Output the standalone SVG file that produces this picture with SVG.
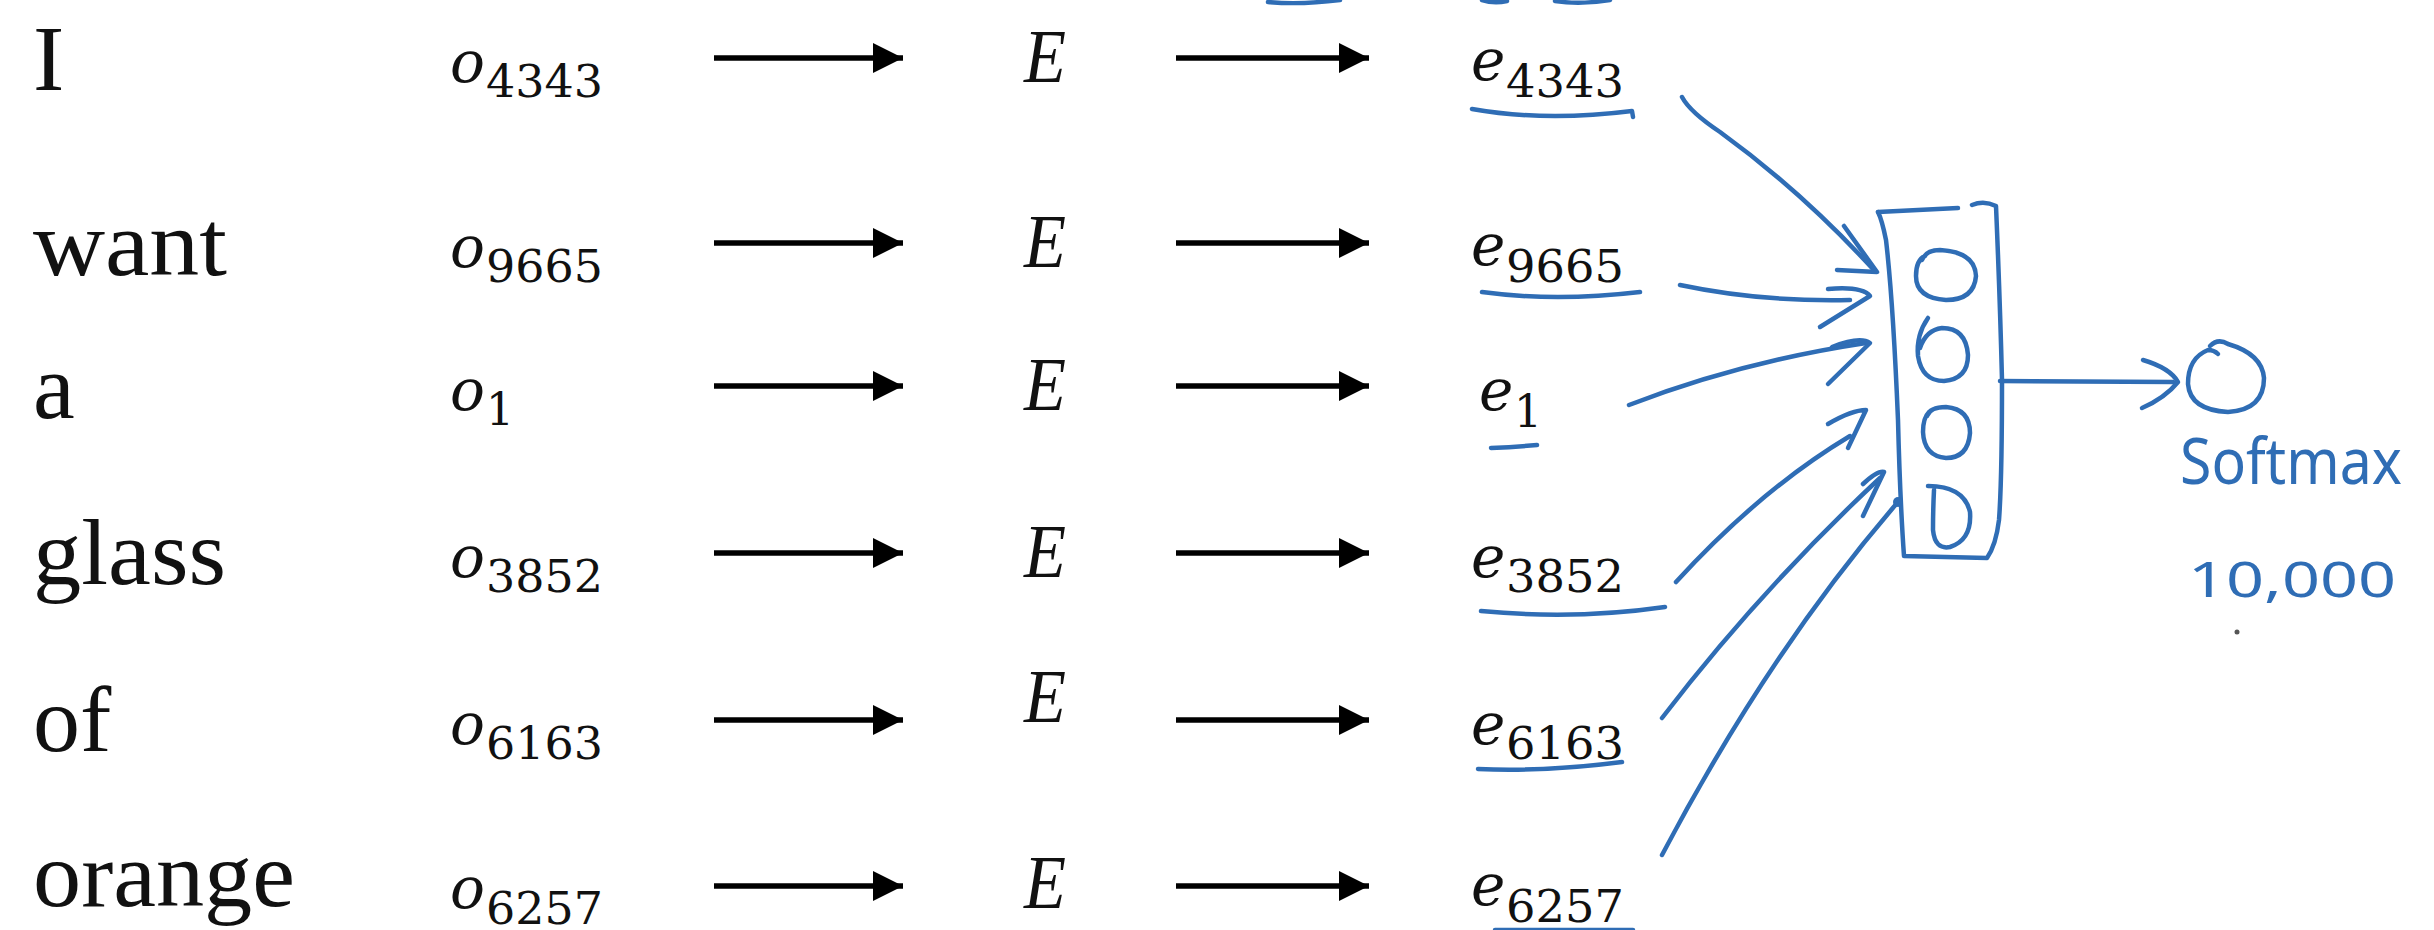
<svg xmlns="http://www.w3.org/2000/svg" width="2434" height="930" viewBox="0 0 2434 930">
<defs>
<marker id="ah" markerUnits="userSpaceOnUse" markerWidth="32" markerHeight="32" refX="30" refY="16" orient="auto">
<path d="M0,1 L30,16 L0,31 Z" fill="#000"/>
</marker>
</defs>
<style>
.w{font-family:"Liberation Serif","Times New Roman",serif;font-size:94px;fill:#111}
.m{font-family:"DejaVu Serif",serif;font-style:italic;font-size:58px;fill:#111}
.E{font-family:"Liberation Serif",serif;font-style:italic;font-size:76px;fill:#111}
.d{font-family:"DejaVu Serif",serif;font-size:44px;fill:#111}
.k{stroke:#000;stroke-width:5.5;fill:none}
.b{stroke:#2f6db5;stroke-width:4.5;fill:none;stroke-linecap:round;stroke-linejoin:round}
.bt{font-family:"Noto Sans","DejaVu Sans",sans-serif;fill:#2f6db5}
</style>
<rect width="2434" height="930" fill="#fff"/>

<g id="words">
<text class="w" x="33" y="90">I</text>
<text class="w" x="33" y="275" textLength="194" lengthAdjust="spacingAndGlyphs">want</text>
<text class="w" x="33" y="418">a</text>
<text class="w" x="33" y="584" textLength="193" lengthAdjust="spacingAndGlyphs">glass</text>
<text class="w" x="33" y="751">of</text>
<text class="w" x="33" y="906" textLength="262" lengthAdjust="spacingAndGlyphs">orange</text>
</g>

<g id="onehot">
<g id="o4343"><text class="m" x="450" y="82">o</text><text class="d" x="486" y="97" textLength="117" lengthAdjust="spacingAndGlyphs">4343</text></g>
<g id="o9665"><text class="m" x="450" y="267">o</text><text class="d" x="486" y="282" textLength="117" lengthAdjust="spacingAndGlyphs">9665</text></g>
<g id="o1"><text class="m" x="450" y="410">o</text><text class="d" x="486" y="425">1</text></g>
<g id="o3852"><text class="m" x="450" y="577">o</text><text class="d" x="486" y="592" textLength="117" lengthAdjust="spacingAndGlyphs">3852</text></g>
<g id="o6163"><text class="m" x="450" y="744">o</text><text class="d" x="486" y="759" textLength="117" lengthAdjust="spacingAndGlyphs">6163</text></g>
<g id="o6257"><text class="m" x="450" y="908">o</text><text class="d" x="486" y="924" textLength="117" lengthAdjust="spacingAndGlyphs">6257</text></g>
</g>

<g id="embedding">
<text class="E" x="1024" y="82" textLength="42" lengthAdjust="spacingAndGlyphs">E</text>
<text class="E" x="1024" y="267" textLength="42" lengthAdjust="spacingAndGlyphs">E</text>
<text class="E" x="1024" y="410" textLength="42" lengthAdjust="spacingAndGlyphs">E</text>
<text class="E" x="1024" y="577" textLength="42" lengthAdjust="spacingAndGlyphs">E</text>
<text class="E" x="1024" y="722" textLength="42" lengthAdjust="spacingAndGlyphs">E</text>
<text class="E" x="1024" y="908" textLength="42" lengthAdjust="spacingAndGlyphs">E</text>
</g>

<g id="embeddings">
<g id="e4343"><text class="m" x="1471" y="80">e</text><text class="d" x="1506" y="97" textLength="118" lengthAdjust="spacingAndGlyphs">4343</text></g>
<g id="e9665"><text class="m" x="1471" y="265">e</text><text class="d" x="1506" y="282" textLength="118" lengthAdjust="spacingAndGlyphs">9665</text></g>
<g id="e1"><text class="m" x="1479" y="410">e</text><text class="d" x="1514" y="427">1</text></g>
<g id="e3852"><text class="m" x="1471" y="577">e</text><text class="d" x="1506" y="592" textLength="118" lengthAdjust="spacingAndGlyphs">3852</text></g>
<g id="e6163"><text class="m" x="1471" y="744">e</text><text class="d" x="1506" y="759" textLength="118" lengthAdjust="spacingAndGlyphs">6163</text></g>
<g id="e6257"><text class="m" x="1471" y="905">e</text><text class="d" x="1506" y="922" textLength="118" lengthAdjust="spacingAndGlyphs">6257</text></g>
</g>

<g id="underlines">
<path class="b" d="M1472,109 Q1545,122 1632,111 L1633,117"/>
<path class="b" d="M1482,292 Q1555,302 1640,292"/>
<path class="b" d="M1491,448 Q1515,447 1537,445"/>
<path class="b" d="M1481,611 Q1575,620 1665,607"/>
<path class="b" d="M1478,769 Q1545,772 1622,762"/>
<path class="b" d="M1495,930 L1633,930"/>
</g>

<g id="topfragments">
<path class="b" d="M1268,2 Q1300,5 1340,0"/>
<path class="b" d="M1482,0 Q1494,4 1507,1"/>
<path class="b" d="M1555,1 Q1580,5 1610,0"/>
</g>

<g id="hidden">
<path class="b" d="M1878,212 L1958,208"/>
<path class="b" d="M1972,205 Q1984,200 1996,206 Q2000,300 2002,380 Q2002,480 1999,520 Q1996,545 1987,558 L1904,556 Q1900,500 1898,420 Q1893,300 1886,240 Q1882,220 1878,212"/>
<path class="b" d="M1922,260 Q1926,250 1940,250 Q1975,252 1976,276 Q1974,300 1946,300 Q1916,298 1916,276 Q1916,260 1925,256"/>
<path class="b" d="M1928,318 Q1916,335 1918,356 Q1922,381 1944,381 Q1968,379 1968,355 Q1966,328 1942,328 Q1926,330 1920,348"/>
<path class="b" d="M1927,416 Q1930,407 1946,407 Q1970,409 1970,433 Q1968,458 1946,458 Q1924,456 1923,432 Q1923,418 1929,412"/>
<path class="b" d="M1928,486 Q1964,486 1970,512 Q1972,540 1950,547 Q1935,550 1933,530 Q1933,510 1934,490"/>
</g>

<g id="softmax">
<path class="b" d="M2210,346 Q2218,338 2228,344 Q2262,354 2264,378 Q2264,410 2228,412 Q2190,410 2188,384 Q2188,358 2208,350 Q2214,350 2218,354"/>
<text class="bt" x="2180" y="484" font-size="64" textLength="222" lengthAdjust="spacingAndGlyphs">Softmax</text>
<text class="bt" x="2188" y="597" font-size="50" textLength="208" lengthAdjust="spacingAndGlyphs">10,000</text>
<circle cx="2237" cy="632" r="2.5" fill="#555"/>
</g>

<g id="connectors">
<line class="k" x1="714" y1="58" x2="903" y2="58" marker-end="url(#ah)"/>
<line class="k" x1="1176" y1="58" x2="1369" y2="58" marker-end="url(#ah)"/>
<line class="k" x1="714" y1="243" x2="903" y2="243" marker-end="url(#ah)"/>
<line class="k" x1="1176" y1="243" x2="1369" y2="243" marker-end="url(#ah)"/>
<line class="k" x1="714" y1="386" x2="903" y2="386" marker-end="url(#ah)"/>
<line class="k" x1="1176" y1="386" x2="1369" y2="386" marker-end="url(#ah)"/>
<line class="k" x1="714" y1="553" x2="903" y2="553" marker-end="url(#ah)"/>
<line class="k" x1="1176" y1="553" x2="1369" y2="553" marker-end="url(#ah)"/>
<line class="k" x1="714" y1="720" x2="903" y2="720" marker-end="url(#ah)"/>
<line class="k" x1="1176" y1="720" x2="1369" y2="720" marker-end="url(#ah)"/>
<line class="k" x1="714" y1="886" x2="903" y2="886" marker-end="url(#ah)"/>
<line class="k" x1="1176" y1="886" x2="1369" y2="886" marker-end="url(#ah)"/>

<path class="b" d="M1682,97 Q1690,112 1720,132 Q1800,190 1872,268"/>
<path class="b" d="M1844,226 L1877,272 L1837,270"/>
<path class="b" d="M1680,285 Q1760,302 1850,300"/>
<path class="b" d="M1828,289 Q1862,286 1870,296 L1820,327"/>
<path class="b" d="M1629,405 Q1740,362 1866,343"/>
<path class="b" d="M1832,347 Q1860,336 1870,343 L1828,384"/>
<path class="b" d="M1676,582 Q1760,490 1850,436"/>
<path class="b" d="M1828,424 Q1852,410 1866,410 L1848,448"/>
<path class="b" d="M1662,718 Q1760,590 1880,478"/>
<path class="b" d="M1863,484 Q1878,470 1884,472 L1863,516"/>
<path class="b" d="M1662,855 Q1770,650 1898,502"/>
<circle cx="1898" cy="502" r="5" fill="#2f6db5"/>
<path class="b" d="M2000,381 L2173,382"/>
<path class="b" d="M2143,360 Q2170,368 2178,382 Q2165,398 2142,408"/>
</g>
</svg>
